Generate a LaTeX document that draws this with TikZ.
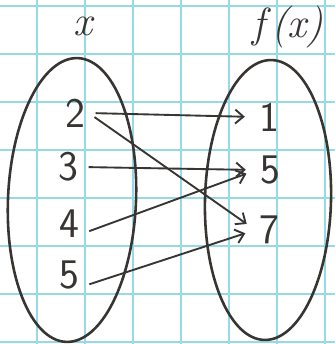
\documentclass[tikz,border=0pt]{standalone}
\usepackage{fontspec}
\usepackage{xcolor}
\usepackage{tikz}
\usetikzlibrary{arrows.meta, positioning}
\definecolor{gridblue}{RGB}{150,218,230}
\definecolor{pencil}{RGB}{55,52,50}

\begin{document}
\begin{tikzpicture}[x=0.03cm, y=-0.03cm,
  val/.style={font=\fontsize{36}{36}\selectfont\sffamily, text=pencil, inner sep=3pt},
  head/.style={font=\fontsize{36}{36}\selectfont\itshape, text=pencil, inner sep=3pt},
  setline/.style={draw=pencil, line width=2.2pt},
  maps/.style={draw=pencil, line width=1.6pt, -{Straight Barb[length=7pt,width=12pt]},
    shorten <=6pt, shorten >=9pt}]
  % Graph paper
  \useasboundingbox (0,0) rectangle (335,344);
  \fill[white] (0,0) rectangle (335,344);
  \clip (0,0) rectangle (335,344);
  \foreach \gx in {37,85,...,330} \draw[gridblue, line width=1.2pt] (\gx,0) -- (\gx,344);
  \foreach \gy in {6,54,...,344} \draw[gridblue, line width=1.2pt] (0,\gy) -- (335,\gy);

  % Domain and range sets
  \draw[setline, rotate around={-2.4:(72,200)}] (72,200) ellipse [x radius=1.92cm, y radius=4.26cm];
  \draw[setline, rotate around={-1.5:(268,200)}] (268,200) ellipse [x radius=1.89cm, y radius=4.2cm];
  \node[head] (dom) at (83,26) {x};
  \node[head] (cod) at (288,27) {f\/(x)};

  % Inputs
  \node[val] (l2) at (75,113) {2};
  \node[val] (l3) at (68,167) {3};
  \node[val] (l4) at (69,224) {4};
  \node[val] (l5) at (69,275) {5};
  % Outputs
  \node[val] (r1) at (269,117) {1};
  \node[val] (r5) at (270,170) {5};
  \node[val] (r7) at (269,230) {7};

  % Mapping
  \draw[maps] (l2.east) -- (r1.west);
  \draw[maps] (l2.east) -- (r7.west);
  \draw[maps] (l3.east) -- (r5.west);
  \draw[maps] (l4.-35) -- (r5.west);
  \draw[maps] (l5.-40) -- (r7.west);
\end{tikzpicture}
\end{document}
